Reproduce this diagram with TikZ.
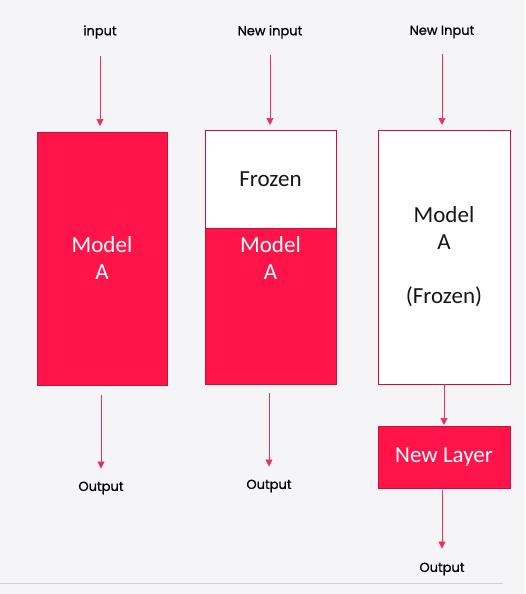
\documentclass[tikz,border=0pt]{standalone}
\usepackage{fontspec}
\setmainfont{Carlito}
\newfontfamily\iofont[FakeBold=0.8]{Poppins}
\usepackage{tikz}
\usetikzlibrary{positioning}
\usetikzlibrary{arrows.meta}
\usetikzlibrary{calc}

\definecolor{modelred}{HTML}{FF1449}
\definecolor{edgered}{HTML}{C2123F}
\definecolor{arrowred}{HTML}{E8325E}
\definecolor{bggray}{HTML}{F5F4F7}
\definecolor{linegray}{HTML}{D2D2D4}
\definecolor{textblack}{HTML}{151515}

\begin{document}
\begin{tikzpicture}[ x = 1pt
                     , y = -1pt
                     , >={Triangle[width=7pt, length=7pt]}
                     , every node/.style = { align = center
                                         , inner sep = 3pt }
                     ]
  \fill[bggray] (0,0) rectangle (525,594);
  \useasboundingbox (0,0) rectangle (525,594);
  \draw[linegray, line width=0.8pt] (0,583) -- (503,583);

  %%
  %% Nodes
  %%
  \tikzset{ io/.style={font=\iofont\fontsize{13}{15}\selectfont, text=black}
          , block/.style={rectangle, draw=edgered, line width=0.8pt, outer sep=0pt,
                          minimum width=131pt, font=\fontsize{23}{27}\selectfont}
          , hot/.style={block, fill=modelred, text=white}
          , cold/.style={block, fill=white, text=textblack}
          , flow/.style={->, draw=arrowred, line width=0.7pt}
          }

  \node (in1) [io] at (100,32) {input};
  \node (in2) [io] at (270,32) {New input};
  \node (in3) [io] at (442,32) {New Input};

  \node (modelA) [hot, minimum width=130pt, minimum height=253pt] at (102,258.5) {Model\\A};
  \node (frozenB) [cold, minimum height=98pt] at (270.5,179) {\raisebox{-2pt}{Frozen}};
  \node (modelB) [hot, minimum height=156pt, below = 0pt of frozenB,
                  label={[anchor=north, inner sep=0pt, yshift=-8pt, text=white,
                          align=center, font=\fontsize{23}{27}\selectfont]north:Model\\A}] {};
  \node (modelC) [cold, minimum width=132pt, minimum height=254pt] at (444,257) {Model\\A\\~\\(Frozen)};
  \node (newlayer) [hot, minimum width=132pt, minimum height=62pt, below = 42pt of modelC] {\raisebox{-2pt}{New Layer}};

  \node (out1) [io] at (101,488) {Output};
  \node (out2) [io] at (269,486) {Output};
  \node (out3) [io] at (442,569) {Output};

  %%
  %% Arrows between nodes
  %%
  % Into the models.
  \draw[flow, shorten <=14pt, shorten >=6pt] (in1) -- (in1 |- modelA.north);
  \draw[flow, shorten <=13pt, shorten >=5pt] (in2) -- (in2 |- frozenB.north);
  \draw[flow, shorten <=13pt, shorten >=5pt] (in3) -- (in3 |- modelC.north);
  % Out of the models.
  \draw[flow, shorten <=10pt, shorten >=10pt] (modelA.south -| out1) -- (out1);
  \draw[flow, shorten <=9pt, shorten >=10pt] (modelB.south -| out2) -- (out2);
  \draw[flow, shorten >=1pt] (modelC.south) -- (newlayer);
  \draw[flow, shorten <=2pt, shorten >=11pt] (newlayer.south -| out3) -- (out3);
\end{tikzpicture}
\end{document}
